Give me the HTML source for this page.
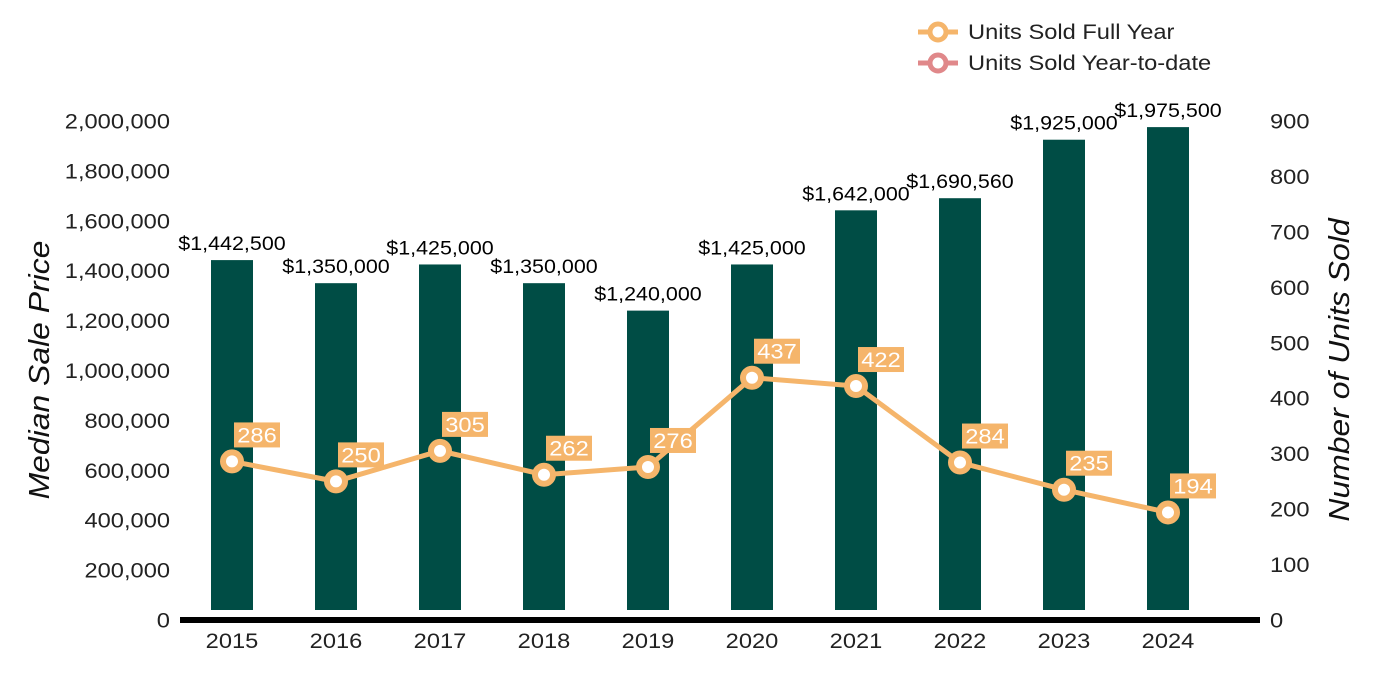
<!DOCTYPE html>
<html><head><meta charset="utf-8"><style>
body{margin:0;background:#fff;}
svg{display:block;font-family:"Liberation Sans",Arial,sans-serif;}
</style></head><body>
<svg id="chart" width="1400" height="700">
<g>
 <g>
  <line x1="918" y1="32" x2="958" y2="32" stroke="#F5B56B" stroke-width="5"/>
  <circle cx="938" cy="32" r="8" fill="#fff" stroke="#F5B56B" stroke-width="5"/>
  <text class="s" x="968" y="39" font-size="21.5" fill="#222">Units Sold Full Year</text>
 </g>
 <g>
  <line x1="918" y1="63" x2="958" y2="63" stroke="#E0888A" stroke-width="5"/>
  <circle cx="938" cy="63" r="8" fill="#fff" stroke="#E0888A" stroke-width="5"/>
  <text class="s" x="968" y="70" font-size="21.5" fill="#222">Units Sold Year-to-date</text>
 </g>
</g>
<text class="s" transform="translate(49,370) rotate(-90)" text-anchor="middle" font-size="29" font-style="italic" fill="#111">Median Sale Price</text>
<text class="s" transform="translate(1349,370) rotate(-90)" text-anchor="middle" font-size="29" font-style="italic" fill="#111">Number of Units Sold</text>
<g id="g"></g>
</svg>
<script>
const years=["2015","2016","2017","2018","2019","2020","2021","2022","2023","2024"];
const prices=[1442500,1350000,1425000,1350000,1240000,1425000,1642000,1690560,1925000,1975500];
const priceLabels=["$1,442,500","$1,350,000","$1,425,000","$1,350,000","$1,240,000","$1,425,000","$1,642,000","$1,690,560","$1,925,000","$1,975,500"];
const units=[286,250,305,262,276,437,422,284,235,194];
const leftTicks=[0,200000,400000,600000,800000,1000000,1200000,1400000,1600000,1800000,2000000];
const rightTicks=[0,100,200,300,400,500,600,700,800,900];
const NS="http://www.w3.org/2000/svg";
const g=document.getElementById('g');
const yL=v=>620-v*499/2000000;
const yR=v=>620-v*499/900;
const xC=i=>232+i*104;
function mk(t,a,txt){const e=document.createElementNS(NS,t);for(const k in a)e.setAttribute(k,a[k]);if(txt!==undefined){e.textContent=txt;e.classList.add('s');}g.appendChild(e);return e;}
leftTicks.forEach(v=>{const e=mk('text',{x:170,y:yL(v)+7.5,'text-anchor':'end','font-size':21.5,fill:'#222'},v.toLocaleString('en-US'));

});
rightTicks.forEach(v=>{const e=mk('text',{x:1270,y:yR(v)+7.5,'font-size':21.5,fill:'#222'},String(v));

});
years.forEach((y,i)=>{
 const top=yL(prices[i]);
 const b=mk('rect',{x:xC(i)-21,y:top,width:42,height:610-top,fill:'#004D45'});
 
 
 const l=mk('text',{x:xC(i),y:top-10,'text-anchor':'middle','font-size':19.5,fill:'#000'},priceLabels[i]);
 
 
 const t=mk('text',{x:xC(i),y:648,'text-anchor':'middle','font-size':21.5,fill:'#222'},y);
 
 
});
const ax=mk('line',{x1:180,y1:620,x2:1260,y2:620,stroke:'#000','stroke-width':6});


const pl=mk('polyline',{points:units.map((u,i)=>xC(i)+','+yR(u)).join(' '),fill:'none',stroke:'#F5B56B','stroke-width':5});


units.forEach((u,i)=>{
 const c=mk('circle',{cx:xC(i),cy:yR(u),r:9,fill:'#fff',stroke:'#F5B56B','stroke-width':6});
 
 
 const r=mk('rect',{x:xC(i)+2,y:yR(u)-39,width:46,height:25,fill:'#F5B56B'});
 
 
 const t=mk('text',{x:xC(i)+25,y:yR(u)-19,'text-anchor':'middle','font-size':21.5,fill:'#fff'},String(u));
 
 
});
document.querySelectorAll('text.s').forEach(t=>{
 const w=t.getComputedTextLength();
 t.setAttribute('textLength',(w*1.1).toFixed(1));
 t.setAttribute('lengthAdjust','spacingAndGlyphs');
});
</script>
</body></html>
